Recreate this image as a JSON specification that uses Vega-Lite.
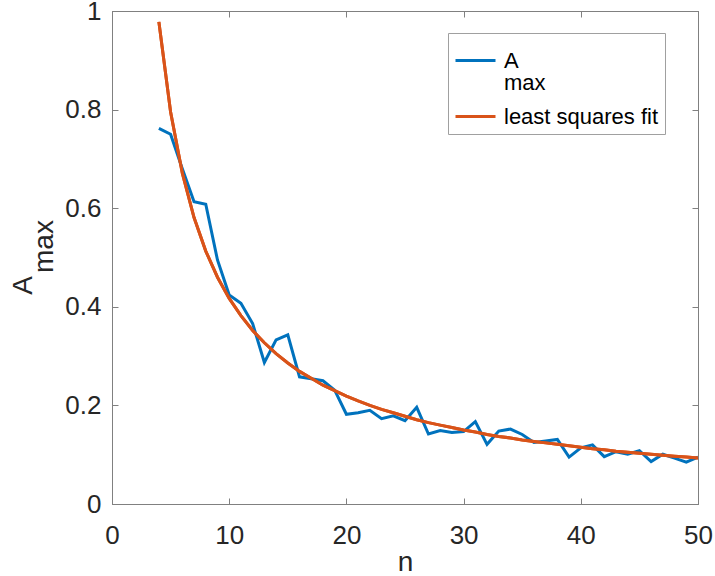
{
  "$schema": "https://vega.github.io/schema/vega-lite/v6.json",
  "width": 586,
  "height": 493,
  "autosize": {"type": "none"},
  "padding": {"left": 112, "top": 11, "right": 17, "bottom": 72},
  "background": "white",
  "config": {
    "view": {"stroke": "#808080", "strokeWidth": 1},
    "font": "Liberation Sans",
    "axis": {
      "domainColor": "#808080",
      "tickColor": "#808080",
      "grid": false,
      "labelColor": "#262626",
      "titleColor": "#262626",
      "labelFont": "Liberation Sans",
      "titleFont": "Liberation Sans",
      "labelFontSize": 26,
      "titleFontSize": 28,
      "titleFontWeight": "normal",
      "tickSize": -6
    }
  },
  "datasets": {
    "pts": [
      {"n": 4, "value": 0.762, "series": "Amax"},
      {"n": 5, "value": 0.750, "series": "Amax"},
      {"n": 6, "value": 0.680, "series": "Amax"},
      {"n": 7, "value": 0.613, "series": "Amax"},
      {"n": 8, "value": 0.608, "series": "Amax"},
      {"n": 9, "value": 0.495, "series": "Amax"},
      {"n": 10, "value": 0.424, "series": "Amax"},
      {"n": 11, "value": 0.407, "series": "Amax"},
      {"n": 12, "value": 0.366, "series": "Amax"},
      {"n": 13, "value": 0.287, "series": "Amax"},
      {"n": 14, "value": 0.333, "series": "Amax"},
      {"n": 15, "value": 0.343, "series": "Amax"},
      {"n": 16, "value": 0.258, "series": "Amax"},
      {"n": 17, "value": 0.254, "series": "Amax"},
      {"n": 18, "value": 0.250, "series": "Amax"},
      {"n": 19, "value": 0.231, "series": "Amax"},
      {"n": 20, "value": 0.182, "series": "Amax"},
      {"n": 21, "value": 0.185, "series": "Amax"},
      {"n": 22, "value": 0.190, "series": "Amax"},
      {"n": 23, "value": 0.173, "series": "Amax"},
      {"n": 24, "value": 0.179, "series": "Amax"},
      {"n": 25, "value": 0.169, "series": "Amax"},
      {"n": 26, "value": 0.196, "series": "Amax"},
      {"n": 27, "value": 0.142, "series": "Amax"},
      {"n": 28, "value": 0.149, "series": "Amax"},
      {"n": 29, "value": 0.145, "series": "Amax"},
      {"n": 30, "value": 0.147, "series": "Amax"},
      {"n": 31, "value": 0.167, "series": "Amax"},
      {"n": 32, "value": 0.121, "series": "Amax"},
      {"n": 33, "value": 0.148, "series": "Amax"},
      {"n": 34, "value": 0.152, "series": "Amax"},
      {"n": 35, "value": 0.141, "series": "Amax"},
      {"n": 36, "value": 0.125, "series": "Amax"},
      {"n": 37, "value": 0.128, "series": "Amax"},
      {"n": 38, "value": 0.131, "series": "Amax"},
      {"n": 39, "value": 0.095, "series": "Amax"},
      {"n": 40, "value": 0.114, "series": "Amax"},
      {"n": 41, "value": 0.120, "series": "Amax"},
      {"n": 42, "value": 0.096, "series": "Amax"},
      {"n": 43, "value": 0.106, "series": "Amax"},
      {"n": 44, "value": 0.101, "series": "Amax"},
      {"n": 45, "value": 0.108, "series": "Amax"},
      {"n": 46, "value": 0.086, "series": "Amax"},
      {"n": 47, "value": 0.101, "series": "Amax"},
      {"n": 48, "value": 0.093, "series": "Amax"},
      {"n": 49, "value": 0.085, "series": "Amax"},
      {"n": 50, "value": 0.095, "series": "Amax"},
      {"n": 4, "value": 0.978, "series": "least squares fit"},
      {"n": 5, "value": 0.795, "series": "least squares fit"},
      {"n": 6, "value": 0.671, "series": "least squares fit"},
      {"n": 7, "value": 0.581, "series": "least squares fit"},
      {"n": 8, "value": 0.513, "series": "least squares fit"},
      {"n": 9, "value": 0.460, "series": "least squares fit"},
      {"n": 10, "value": 0.417, "series": "least squares fit"},
      {"n": 11, "value": 0.382, "series": "least squares fit"},
      {"n": 12, "value": 0.352, "series": "least squares fit"},
      {"n": 13, "value": 0.327, "series": "least squares fit"},
      {"n": 14, "value": 0.305, "series": "least squares fit"},
      {"n": 15, "value": 0.286, "series": "least squares fit"},
      {"n": 16, "value": 0.269, "series": "least squares fit"},
      {"n": 17, "value": 0.255, "series": "least squares fit"},
      {"n": 18, "value": 0.241, "series": "least squares fit"},
      {"n": 19, "value": 0.230, "series": "least squares fit"},
      {"n": 20, "value": 0.219, "series": "least squares fit"},
      {"n": 21, "value": 0.209, "series": "least squares fit"},
      {"n": 22, "value": 0.200, "series": "least squares fit"},
      {"n": 23, "value": 0.192, "series": "least squares fit"},
      {"n": 24, "value": 0.185, "series": "least squares fit"},
      {"n": 25, "value": 0.178, "series": "least squares fit"},
      {"n": 26, "value": 0.171, "series": "least squares fit"},
      {"n": 27, "value": 0.165, "series": "least squares fit"},
      {"n": 28, "value": 0.160, "series": "least squares fit"},
      {"n": 29, "value": 0.155, "series": "least squares fit"},
      {"n": 30, "value": 0.150, "series": "least squares fit"},
      {"n": 31, "value": 0.146, "series": "least squares fit"},
      {"n": 32, "value": 0.141, "series": "least squares fit"},
      {"n": 33, "value": 0.137, "series": "least squares fit"},
      {"n": 34, "value": 0.134, "series": "least squares fit"},
      {"n": 35, "value": 0.130, "series": "least squares fit"},
      {"n": 36, "value": 0.127, "series": "least squares fit"},
      {"n": 37, "value": 0.124, "series": "least squares fit"},
      {"n": 38, "value": 0.121, "series": "least squares fit"},
      {"n": 39, "value": 0.118, "series": "least squares fit"},
      {"n": 40, "value": 0.115, "series": "least squares fit"},
      {"n": 41, "value": 0.112, "series": "least squares fit"},
      {"n": 42, "value": 0.110, "series": "least squares fit"},
      {"n": 43, "value": 0.107, "series": "least squares fit"},
      {"n": 44, "value": 0.105, "series": "least squares fit"},
      {"n": 45, "value": 0.103, "series": "least squares fit"},
      {"n": 46, "value": 0.101, "series": "least squares fit"},
      {"n": 47, "value": 0.099, "series": "least squares fit"},
      {"n": 48, "value": 0.097, "series": "least squares fit"},
      {"n": 49, "value": 0.0952, "series": "least squares fit"},
      {"n": 50, "value": 0.0934, "series": "least squares fit"}
    ]
  },
  "data": {"name": "pts"},
  "layer": [
    {
      "mark": {"type": "line", "strokeWidth": 3, "clip": true},
      "encoding": {
        "x": {
          "field": "n", "type": "quantitative",
          "scale": {"domain": [0, 50], "nice": false, "zero": false},
          "axis": {"orient": "bottom", "values": [0, 10, 20, 30, 40, 50], "format": "d", "title": "n", "labelPadding": 24, "titlePadding": 0, "labelFlush": false}
        },
        "y": {
          "field": "value", "type": "quantitative",
          "scale": {"domain": [0, 1], "nice": false},
          "axis": {"orient": "left", "values": [0, 0.2, 0.4, 0.6, 0.8, 1], "format": ".1~f", "title": "A", "titleAngle": -90, "titleX": -89, "titleY": 274, "titleAlign": "center", "titleBaseline": "middle", "labelPadding": 17, "labelFlush": false}
        },
        "color": {
          "field": "series", "type": "nominal",
          "scale": {"domain": ["Amax", "least squares fit"], "range": ["#0072BD", "#D95319"]},
          "legend": {
            "title": null,
            "orient": "none",
            "legendX": 336,
            "legendY": 22,
            "symbolType": "stroke",
            "symbolSize": 1600,
            "symbolStrokeWidth": 3,
            "labelFontSize": 22,
            "labelFont": "Liberation Sans",
            "labelColor": "#000000",
            "labelExpr": "datum.value == 'Amax' ? ['A', 'max'] : datum.label",
            "labelLimit": 0,
            "labelOffset": 7,
            "rowPadding": 1,
            "strokeColor": "#A0A0A0",
            "fillColor": "white",
            "padding": 6,
            "encode": {"labels": {"update": {"lineHeight": {"value": 22}}}}
          }
        }
      }
    },
    {
      "transform": [{"filter": "datum.series == 'least squares fit'"}],
      "mark": {"type": "line", "strokeWidth": 3, "color": "#D95319", "clip": true},
      "encoding": {
        "x": {
          "field": "n", "type": "quantitative",
          "axis": {"orient": "top", "values": [0, 10, 20, 30, 40, 50], "labels": false, "title": null}
        },
        "y": {
          "field": "value", "type": "quantitative",
          "axis": {"orient": "right", "values": [0, 0.2, 0.4, 0.6, 0.8, 1], "labels": false, "title": "max", "titleAngle": -90, "titleX": -654, "titleY": 235, "titleAlign": "center", "titleBaseline": "middle"}
        }
      }
    }
  ],
  "resolve": {"axis": {"x": "independent", "y": "independent"}}
}
